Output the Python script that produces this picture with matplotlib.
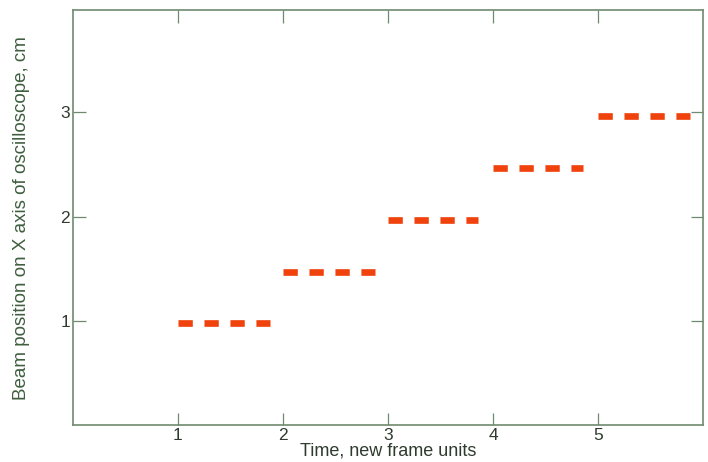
import matplotlib.pyplot as plt

plt.rcParams['font.family'] = ['Liberation Sans', 'DejaVu Sans']
plt.rcParams['lines.scale_dashes'] = False

# step start times, step end times, beam positions (cm)
t_start = [1, 2, 3, 4, 5]
t_end = [1.88, 2.88, 3.86, 4.86, 5.88]
position = [0.98, 1.47, 1.97, 2.47, 2.96]

xticks = [1, 2, 3, 4, 5]
yticks = [1, 2, 3]

text_col = '#2f3b2f'
spine_col = '#6f8a70'
red = '#f0420c'

fig = plt.figure(figsize=(7.08, 4.62), dpi=100)
ax = fig.add_axes([0.103, 0.08, 0.89, 0.898])

for t0, t1, y in zip(t_start, t_end, position):
    ax.plot([t0, t1], [y, y], color=red, lw=4.8, dashes=(10.3, 8.4),
            solid_capstyle='butt', dash_capstyle='butt')

ax.set_xlim(0, 6)
ax.set_ylim(0, 3.98)
ax.set_xticks(xticks)
ax.set_yticks(yticks)
ax.tick_params(direction='in', length=9, width=0.9, color=spine_col,
               labelsize=12.5, labelcolor=text_col, top=True, right=True, pad=2)
for s in ax.spines.values():
    s.set_color(spine_col)
    s.set_linewidth(1.2)

ax.set_xlabel('Time, new frame units', fontsize=13, color=text_col, labelpad=0)
ax.set_ylabel('Beam position on X axis of oscilloscope, cm', fontsize=13.5,
              color='#3e5e3e', labelpad=22)

plt.savefig('out.png')
